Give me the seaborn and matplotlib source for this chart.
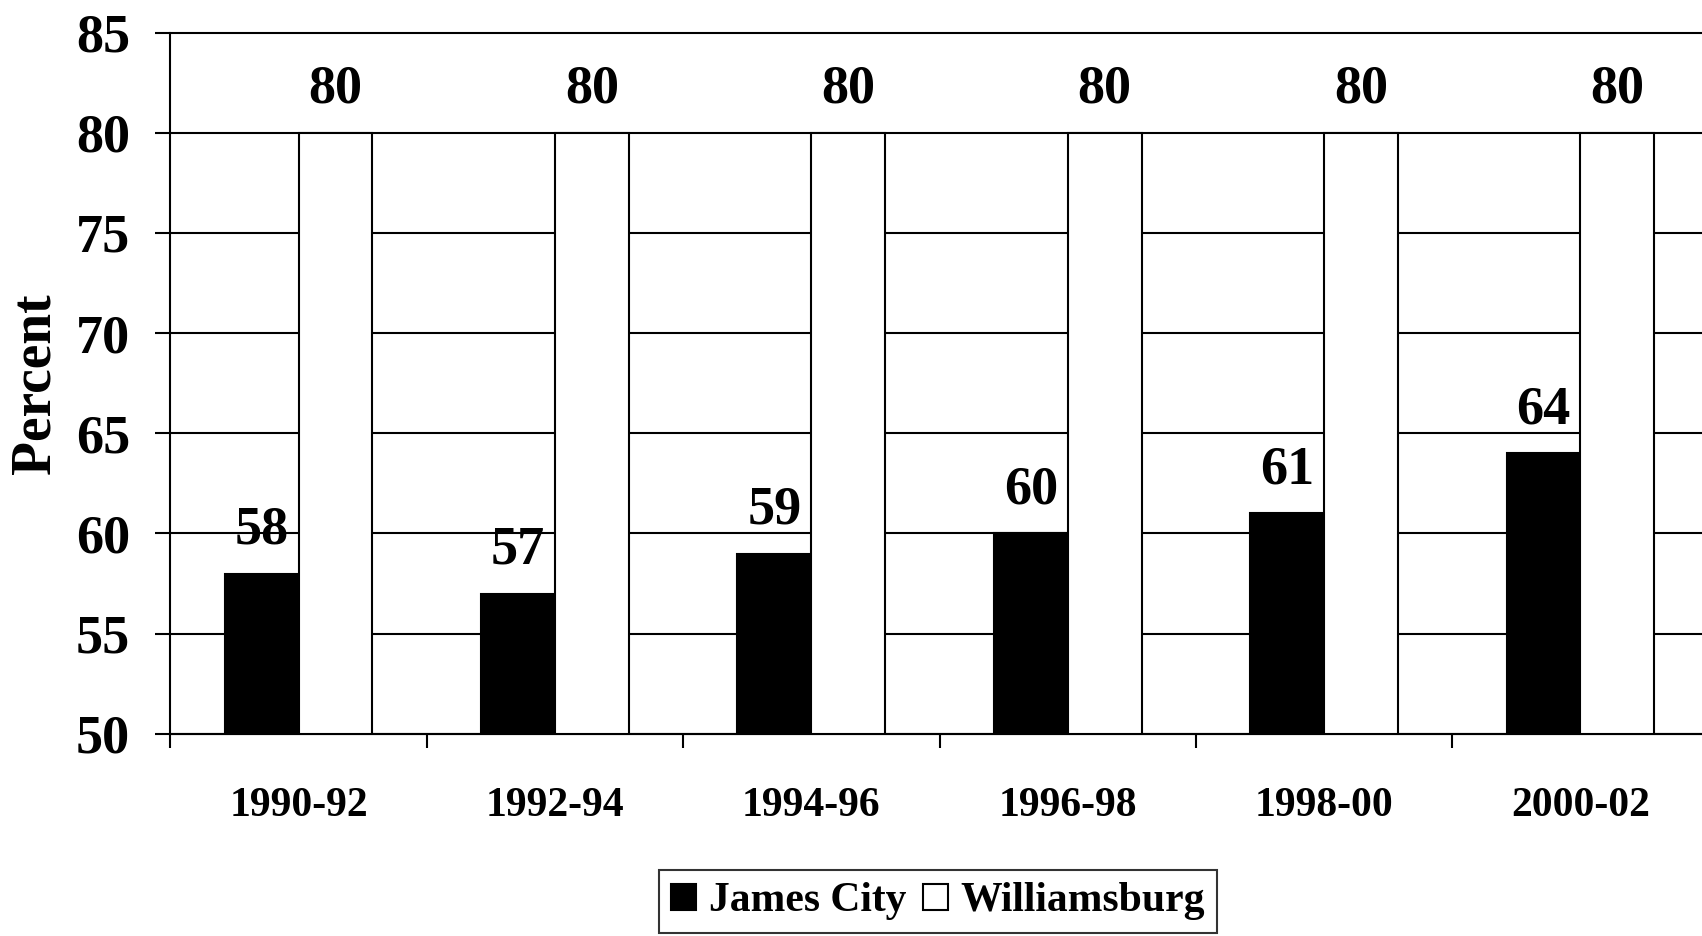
import matplotlib
matplotlib.use("Agg")
import matplotlib.pyplot as plt
import seaborn as sns
import pandas as pd

periods = ["1990-92", "1992-94", "1994-96", "1996-98", "1998-00", "2000-02"]
james_city = [58, 57, 59, 60, 61, 64]
williamsburg = [80, 80, 80, 80, 80, 80]
series_names = ["James City", "Williamsburg"]
y_ticks = [50, 55, 60, 65, 70, 75, 80, 85]

df = pd.DataFrame({
    "period": periods * 2,
    "value": james_city + williamsburg,
    "series": [series_names[0]] * len(periods) + [series_names[1]] * len(periods),
})

sns.set_theme(style="white")
plt.rcParams["font.family"] = ["Liberation Serif", "DejaVu Serif"]
plt.rcParams["font.weight"] = "bold"
for key in ["text.color", "axes.labelcolor", "xtick.color", "ytick.color", "axes.edgecolor"]:
    plt.rcParams[key] = "black"

fig = plt.figure(figsize=(17.02, 9.36), dpi=100)
ax = fig.add_axes([0.1001, 0.216, 0.9038, 0.7492])

sns.barplot(data=df, x="period", y="value", hue="series", order=periods,
            hue_order=series_names, palette=["black", "white"],
            edgecolor="black", linewidth=1.5, width=0.576, gap=0,
            saturation=1, ax=ax, legend=True)

ax.set_ylim(50, 85)
ax.set_xlim(-0.5, len(periods) - 0.5)
ax.set_yticks(y_ticks)
ax.set_yticklabels([str(v) for v in y_ticks], fontsize=39, fontweight="bold", color="black")
ax.yaxis.grid(True, color="black", linewidth=1.5)
ax.set_axisbelow(True)
for gl in ax.get_ygridlines():
    gl.set_clip_on(False)

ax.tick_params(axis="y", which="major", direction="out", length=11, width=1.5,
               color="black", labelcolor="black", pad=18, left=True)
ax.set_xticks(range(len(periods)))
ax.set_xticklabels(periods, fontsize=30, fontweight="bold", color="black")
ax.tick_params(axis="x", which="major", length=0, pad=38, labelcolor="black")
ax.set_xticks([i - 0.5 for i in range(len(periods) + 1)], minor=True)
ax.tick_params(axis="x", which="minor", direction="out", length=10, width=1.5,
               color="black", bottom=True)

for side in ["top", "right"]:
    ax.spines[side].set_visible(False)
for side in ["left", "bottom"]:
    ax.spines[side].set_color("black")
    ax.spines[side].set_linewidth(1.5)

ax.set_xlabel("")
ax.set_ylabel("Percent", fontsize=40, fontweight="bold", labelpad=10, color="black")

for container, vals in zip(ax.containers, [james_city, williamsburg]):
    for patch, v in zip(container.patches, vals):
        ax.annotate(str(v), (patch.get_x() + patch.get_width() / 2, patch.get_height()),
                    xytext=(0, 21.5), textcoords="offset points",
                    ha="center", va="baseline", fontsize=39, fontweight="bold",
                    color="black")

handles, labels = ax.get_legend_handles_labels()
ax.legend_.remove()
leg = fig.legend(handles, labels, loc="upper center",
                 bbox_to_anchor=(0.551, 1 - 870 / 936), bbox_transform=fig.transFigure,
                 ncol=2, frameon=True, fancybox=False, edgecolor="black",
                 prop={"family": "Liberation Serif", "weight": "bold", "size": 30},
                 handlelength=0.6, handleheight=0.6, handletextpad=0.3,
                 columnspacing=0.4, borderpad=0.3, borderaxespad=0)
leg.get_frame().set_linewidth(1.5)
for t in leg.get_texts():
    t.set_color("black")
for h in leg.legend_handles:
    h.set_edgecolor("black")
    h.set_linewidth(1.5)

fig.savefig("out.png", dpi=100)
